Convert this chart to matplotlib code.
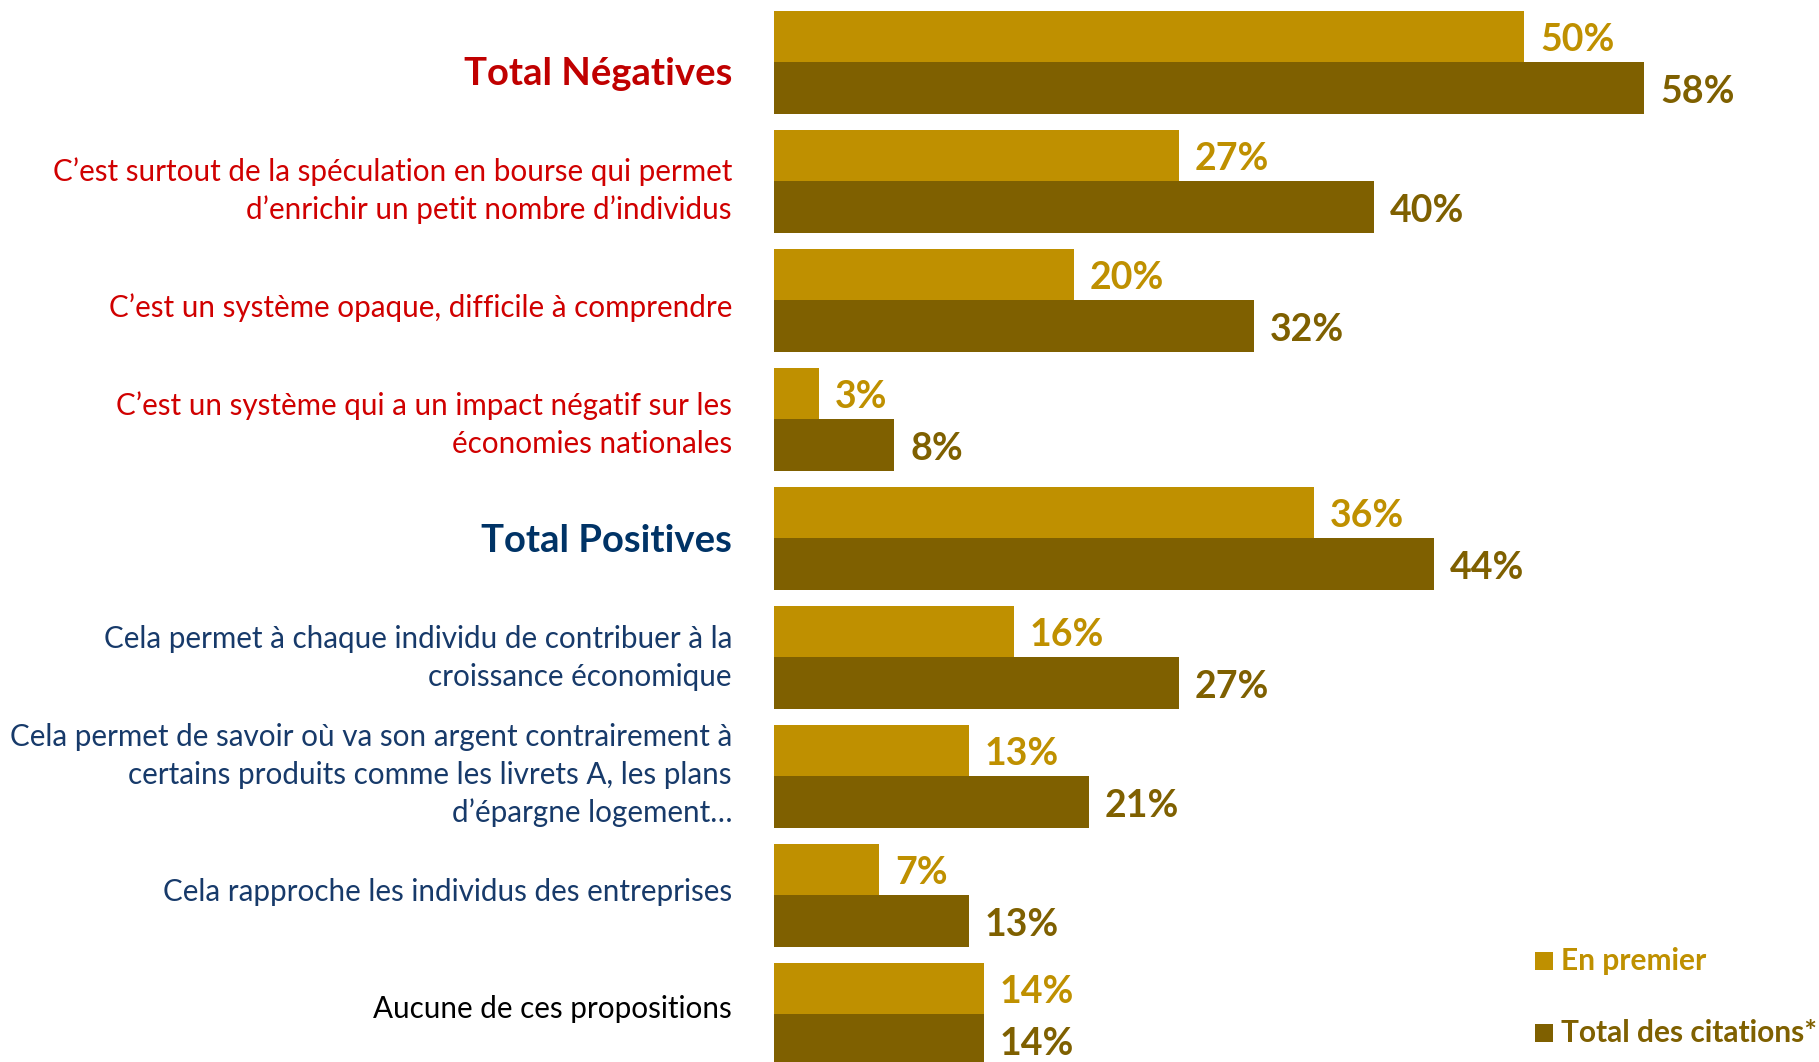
import matplotlib
matplotlib.use("Agg")
import matplotlib.pyplot as plt
from matplotlib.patches import Rectangle

categories = [
    "Total Négatives",
    "C\u2019est surtout de la spéculation en bourse qui permet\nd\u2019enrichir un petit nombre d\u2019individus",
    "C\u2019est un système opaque, difficile à comprendre",
    "C\u2019est un système qui a un impact négatif sur les\néconomies nationales",
    "Total Positives",
    "Cela permet à chaque individu de contribuer à la\ncroissance économique",
    "Cela permet de savoir où va son argent contrairement à\ncertains produits comme les livrets A, les plans\nd\u2019épargne logement\u2026",
    "Cela rapproche les individus des entreprises",
    "Aucune de ces propositions",
]
en_premier = [50, 27, 20, 3, 36, 16, 13, 7, 14]
total_citations = [58, 40, 32, 8, 44, 27, 21, 13, 14]
series_names = ["En premier", "Total des citations*"]

label_colors = ["#C00000", "#D00000", "#D00000", "#D00000",
                "#003366", "#173A6A", "#173A6A", "#173A6A", "#000000"]
label_bold = [True, False, False, False, True, False, False, False, False]

c_light = "#BF9000"
c_dark = "#7F6000"

W, H = 1819, 1062
fig = plt.figure(figsize=(W / 100, H / 100), dpi=100)
x0 = 774
px_per_pct = 15.0
ax = fig.add_axes([x0 / W, 0, (W - x0) / W, 1])
ax.set_xlim(0, (W - x0) / px_per_pct)
pitch = 119.0
first_center = 62.0
ax.set_ylim((H - first_center) / pitch, -first_center / pitch)
ax.axis("off")

bh = 51.5 / pitch
n = len(categories)
ys = list(range(n))
ax.barh([y - bh / 2 for y in ys], en_premier, height=bh, color=c_light,
        edgecolor="none", clip_on=True)
ax.barh([y + bh / 2 for y in ys], total_citations, height=bh, color=c_dark,
        edgecolor="none", clip_on=True)

fam = ["Lato", "DejaVu Sans"]
gap = 16 / px_per_pct
dy = 4 / pitch
for i in ys:
    ax.text(en_premier[i] + gap, i - bh / 2 + dy, f"{en_premier[i]}%", color=c_light,
            fontsize=27, fontweight="bold", family=fam, va="center", ha="left")
    ax.text(total_citations[i] + gap, i + bh / 2 + dy, f"{total_citations[i]}%", color=c_dark,
            fontsize=27, fontweight="bold", family=fam, va="center", ha="left")

# category labels: text rows spaced slightly tighter than the bar groups
for i, lab in enumerate(categories):
    if label_bold[i]:
        fs, fw = 27.5, "bold"
    else:
        fs, fw = 21.3, "normal"
    yc = 73.8 + 116.9 * i
    fig.text(732 / W, 1 - yc / H, lab, ha="right", va="center",
             multialignment="right", fontsize=fs, fontweight=fw,
             color=label_colors[i], family=fam, linespacing=1.42)

# legend
leg_y = [961, 1033]
for name, col, yy in zip(series_names, [c_light, c_dark], leg_y):
    sq = 18
    yf = 1 - yy / H
    fig.patches.append(Rectangle((1535 / W, yf - sq / 2 / H), sq / W, sq / H,
                                 transform=fig.transFigure, facecolor=col,
                                 edgecolor="none"))
    fig.text(1561 / W, yf, name, color=col, fontsize=21.5, fontweight="bold",
             family=fam, va="center", ha="left")

fig.savefig("out.png", dpi=100, facecolor="white")
